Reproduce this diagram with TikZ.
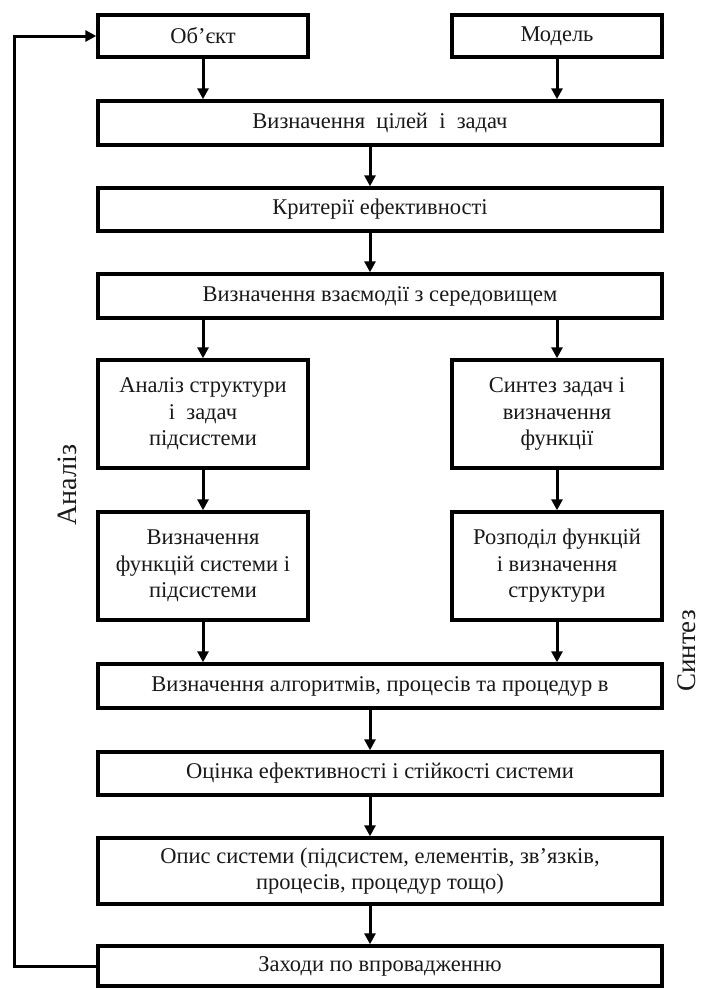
\documentclass[tikz,border=0pt]{standalone}
\usepackage{fontspec}
\setmainfont{Liberation Serif}
\usetikzlibrary{arrows.meta}
\begin{document}
\begin{tikzpicture}[x=1pt,y=-1pt,
  box/.style={draw=black,line width=3.4pt,minimum width=564pt,inner sep=0pt,align=center,
    font=\fontsize{22.5}{26.5}\selectfont,text=black!90},
  sbox/.style={box,minimum width=210pt},
  arr/.style={line width=3pt,-{Triangle[length=11pt,width=11pt]}},
  side/.style={font=\fontsize{28}{30}\selectfont,rotate=90,text=black!90,inner sep=0pt}]
\useasboundingbox (0,0) rectangle (704,989);
\node[sbox,minimum height=42pt] (obj) at (203,36) {Об’єкт};
\node[sbox,minimum height=42pt] (mod) at (557,36) {Модель};
\node[box,minimum height=44pt] (A) at (380,123) {Визначення\ \ цілей\ \ і\ \ задач};
\node[box,minimum height=43pt] (B) at (380,209.5) {Критерії ефективності};
\node[box,minimum height=44pt] (C) at (380,296) {Визначення взаємодії з середовищем};
\node[sbox,minimum height=108pt] (L1) at (203,414) {Аналіз структури\\і\ \ задач\\підсистеми};
\node[sbox,minimum height=108pt] (R1) at (557,414) {Синтез задач і\\визначення\\функції};
\node[sbox,minimum height=108pt] (L2) at (203,566) {Визначення\\функцій системи і\\підсистеми};
\node[sbox,minimum height=108pt] (R2) at (557,566) {Розподіл функцій\\і визначення\\структури};
\node[box,minimum height=44pt] (D) at (380,686) {Визначення алгоритмів, процесів та процедур в};
\node[box,minimum height=43pt] (E) at (380,773.5) {Оцінка ефективності і стійкості системи};
\node[box,minimum height=66pt] (F) at (380,871) {Опис системи (підсистем, елементів, зв’язків,\\процесів, процедур тощо)};
\node[box,minimum height=40pt] (G) at (380,966) {Заходи по впровадженню};
\node[side] (an) at (67,485) {Аналіз};
\node[side,font=\fontsize{27}{29}\selectfont] (sy) at (687,651) {Синтез};
\coordinate (xc) at (370,0);
\coordinate (fb) at (14,0);
\draw[arr] (obj) -- (A.north -| obj);
\draw[arr] (mod) -- (A.north -| mod);
\draw[arr] (A.south -| xc) -- (B.north -| xc);
\draw[arr] (B.south -| xc) -- (C.north -| xc);
\draw[arr] (C.south -| L1) -- (L1);
\draw[arr] (C.south -| R1) -- (R1);
\draw[arr] (L1) -- (L2);
\draw[arr] (R1) -- (R2);
\draw[arr] (L2) -- (D.north -| L2);
\draw[arr] (R2) -- (D.north -| R2);
\draw[arr] (D.south -| xc) -- (E.north -| xc);
\draw[arr] (E.south -| xc) -- (F.north -| xc);
\draw[arr] (F.south -| xc) -- (G.north -| xc);
\draw[arr] (G.west) -- (G.west -| fb) -- (obj.west -| fb) -- (obj.west);
\end{tikzpicture}
\end{document}
